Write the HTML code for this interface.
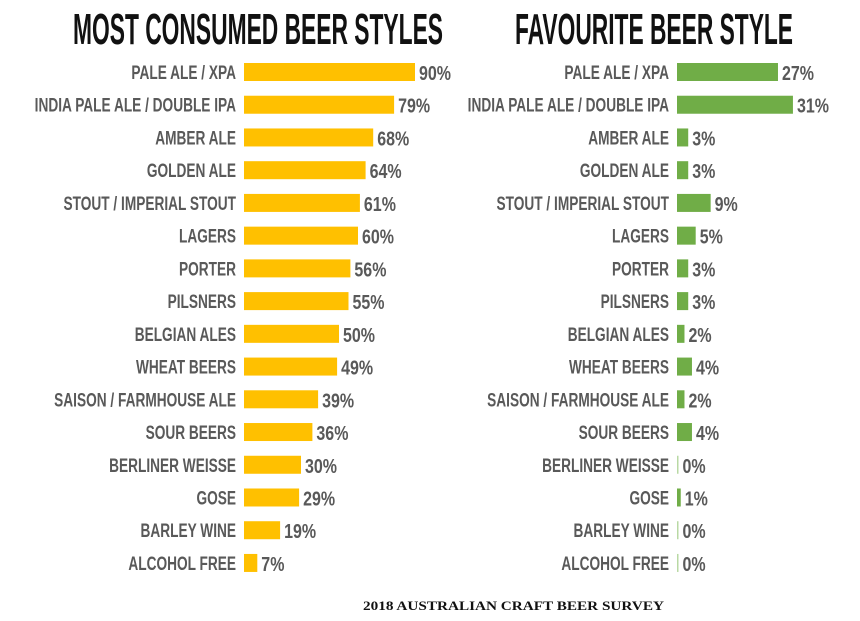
<!DOCTYPE html>
<html><head><meta charset="utf-8"><style>
html,body{margin:0;padding:0;background:#fff;}
svg{display:block;}
text{font-family:"Liberation Sans",sans-serif;font-weight:bold;}
</style></head><body>
<svg id="chart" width="860" height="621" viewBox="0 0 860 621">
<text x="73" y="44" font-size="44" fill="#111" textLength="370" lengthAdjust="spacingAndGlyphs">MOST CONSUMED BEER STYLES</text>
<text x="515" y="44" font-size="44" fill="#111" textLength="278" lengthAdjust="spacingAndGlyphs">FAVOURITE BEER STYLE</text>
<text x="363" y="610" font-size="13" fill="#111" textLength="301" lengthAdjust="spacingAndGlyphs" style="font-family:'Liberation Serif',serif">2018 AUSTRALIAN CRAFT BEER SURVEY</text>
<g id="left"></g>
<g id="right"></g>
</svg>
<script>
const categories = ["PALE ALE / XPA","INDIA PALE ALE / DOUBLE IPA","AMBER ALE","GOLDEN ALE","STOUT / IMPERIAL STOUT","LAGERS","PORTER","PILSNERS","BELGIAN ALES","WHEAT BEERS","SAISON / FARMHOUSE ALE","SOUR BEERS","BERLINER WEISSE","GOSE","BARLEY WINE","ALCOHOL FREE"];
const consumedValues = [90,79,68,64,61,60,56,55,50,49,39,36,30,29,19,7];
const favouriteValues = [27,31,3,3,9,5,3,3,2,4,2,4,0,1,0,0];
const NS = "http://www.w3.org/2000/svg";
function y(i){ return 72 + i * 32.73; }
function draw(gid, vals, x0, labelX, pxPer, color, prefix){
  const g = document.getElementById(gid);
  vals.forEach((v,i)=>{
    const cy = y(i);
    const lab = document.createElementNS(NS,"text");
    
    
    lab.setAttribute("transform","translate("+labelX+","+(cy+7)+") scale(0.72,1)");
    lab.setAttribute("text-anchor","end");
    lab.setAttribute("font-size","19");
    lab.setAttribute("fill","#595959");
    lab.textContent = categories[i];
    g.appendChild(lab);
    let w = v * pxPer;
    let c = color;
    if (v === 0) { w = 1.5; c = "#b9d9a4"; }
    else if (w < 3) w = 3;
    const r = document.createElementNS(NS,"rect");
    
    
    r.setAttribute("x", x0); r.setAttribute("y", cy-9);
    r.setAttribute("width", w); r.setAttribute("height", 18);
    r.setAttribute("fill", c);
    g.appendChild(r);
    const vt = document.createElementNS(NS,"text");
    
    
    vt.setAttribute("transform","translate("+(x0+w+4)+","+(cy+8)+") scale(0.8,1)");
    vt.setAttribute("font-size","20");
    vt.setAttribute("fill","#595959");
    vt.textContent = v + "%";
    g.appendChild(vt);
  });
}
draw("left", consumedValues, 244, 236, 1.9, "#FFC000", "consumed");
draw("right", favouriteValues, 677, 669, 3.74, "#70AD47", "favourite");
</script>
</body></html>
